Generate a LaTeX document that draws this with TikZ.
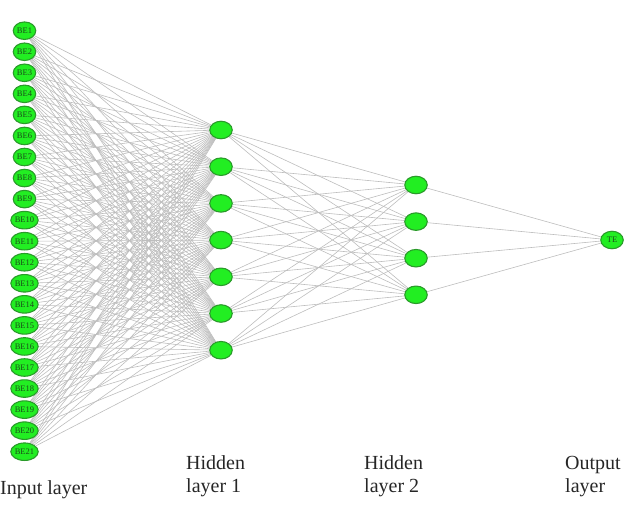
\documentclass[tikz,border=0pt]{standalone}
\usepackage{fontspec}
\setmainfont{Liberation Serif}
\usetikzlibrary{shapes.geometric}
\pgfdeclarelayer{background}
\pgfsetlayers{background,main}
\definecolor{nodefill}{HTML}{22EE22}
\definecolor{nodeline}{HTML}{2A9A2A}
\definecolor{nodetext}{HTML}{1A4E1A}
\definecolor{edgecol}{HTML}{BDBDBD}
\tikzset{
  neuron/.style={ellipse, draw=nodeline, fill=nodefill, line width=1.1pt,
    minimum width=22.5pt, minimum height=17.5pt, inner sep=0pt,
    font=\fontsize{8.5}{8.5}\selectfont, text=nodetext},
  edge/.style={draw=edgecol, line width=0.6pt},
  caption/.style={anchor=base west, inner sep=0pt, font=\fontsize{20}{23}\selectfont, text=black!85}
}
\begin{document}
\begin{tikzpicture}[x=1pt,y=-1pt]
\useasboundingbox (0,0) rectangle (629,531);
% input layer
\foreach \i in {1,...,21} {
  \node[neuron] (in\i) at (24.5, {30.7+(\i-1)*21.05}) {BE\i};
}
% hidden 1
\foreach \j in {1,...,7} {
  \node[neuron] (ha\j) at (221, {130+(\j-1)*36.7}) {};
}
% hidden 2
\foreach \k in {1,...,4} {
  \node[neuron] (hb\k) at (416, {185+(\k-1)*36.6}) {};
}
% output
\node[neuron] (out) at (612, 240) {TE};
% edges
\begin{pgfonlayer}{background}
\foreach \i in {1,...,21} {
  \foreach \j in {1,...,7} {
    \path[edge] (in\i) -- (ha\j);
  }
}
\foreach \j in {1,...,7} {
  \foreach \k in {1,...,4} {
    \path[edge] (ha\j) -- (hb\k);
  }
}
\foreach \k in {1,...,4} {
  \path[edge] (hb\k) -- (out);
}
\end{pgfonlayer}
% captions
\node[caption] (capin) at (0,494) {Input layer};
\node[caption] (caph1a) at (186,469) {Hidden};
\node[caption] (caph1b) at (186,492) {layer 1};
\node[caption] (caph2a) at (364,469) {Hidden};
\node[caption] (caph2b) at (364,492) {layer 2};
\node[caption] (capouta) at (565,469) {Output};
\node[caption] (capoutb) at (565,492) {layer};
\end{tikzpicture}
\end{document}
